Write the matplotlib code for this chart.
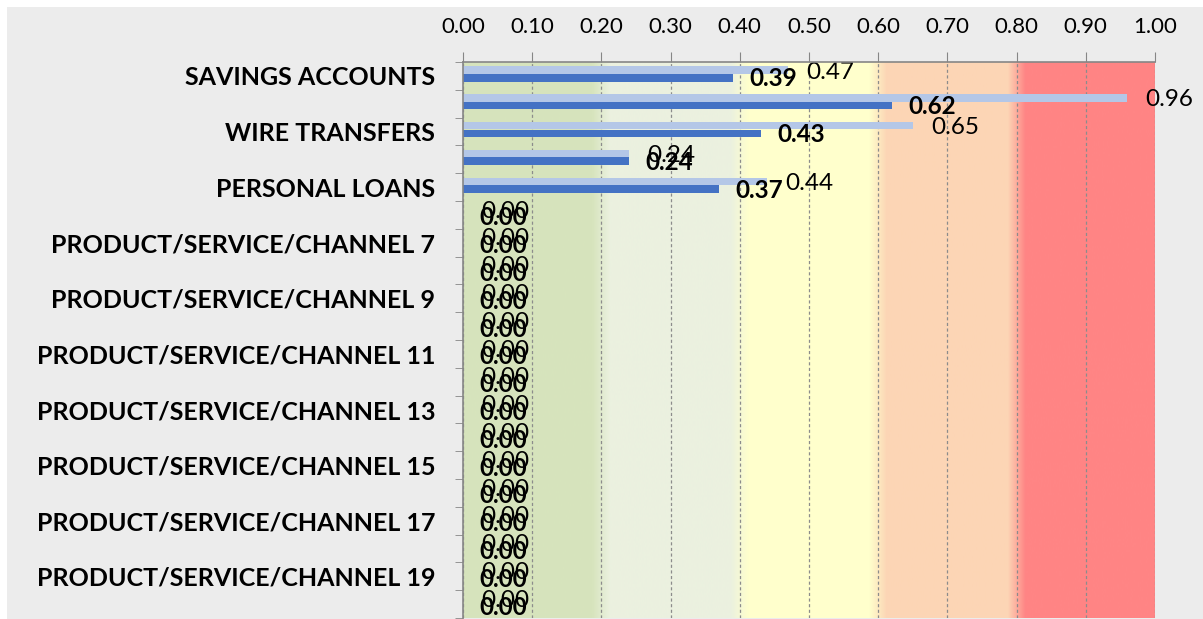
"""Risk score by product / service / channel - horizontal bar chart"""
import numpy as np
import matplotlib.pyplot as plt
from matplotlib.patches import Rectangle

plt.rcParams['font.family'] = ['Lato', 'DejaVu Sans']

# Data
categories = ['SAVINGS ACCOUNTS', 'CHECKING ACCOUNTS', 'WIRE TRANSFERS', 'CREDIT CARDS',
              'PERSONAL LOANS'] + ['PRODUCT/SERVICE/CHANNEL %d' % n for n in range(6, 21)]
inherent = [0.47, 0.96, 0.65, 0.24, 0.44] + [0.0] * 15
residual = [0.39, 0.62, 0.43, 0.24, 0.37] + [0.0] * 15
xticks = [0.0, 0.1, 0.2, 0.3, 0.4, 0.5, 0.6, 0.7, 0.8, 0.9, 1.0]
band_edges = [0.0, 0.2, 0.4, 0.6, 0.8, 1.0]
band_colors = ['#d7e4bd', '#ebf1df', '#ffffcc', '#fcd5b5', '#ff8585']

fig = plt.figure(figsize=(12.03, 6.19), dpi=100)
fig.patch.set_facecolor('white')
fig.patches.append(Rectangle((7 / 1203, 0), 1, 1 - 7 / 619, transform=fig.transFigure,
                             facecolor='#ececec', edgecolor='none', zorder=-10))

ax = fig.add_axes([463 / 1203, 1 / 619, 692 / 1203, 556 / 619])
ax.set_facecolor('none')

n = len(categories)
y = np.arange(n)

# background bands, softened at the edges
N = 1000
xs = (np.arange(N) + 0.5) / N
rgb = np.zeros((N, 3))
for lo, hi, c in zip(band_edges[:-1], band_edges[1:], band_colors):
    m = (xs >= lo) & (xs < hi)
    rgb[m] = plt.matplotlib.colors.to_rgb(c)
k = np.ones(25) / 25
padded = np.pad(rgb, ((12, 12), (0, 0)), mode='edge')
smooth = np.stack([np.convolve(padded[:, i], k, mode='valid') for i in range(3)], axis=1)
ax.imshow(smooth[np.newaxis, :, :], extent=(0, 1, n - 0.5, -0.5), aspect='auto',
          zorder=0, interpolation='bilinear')

bh = 0.27
ax.barh(y - 0.21, inherent, height=bh, color='#b4c7e7', zorder=2)
ax.barh(y + 0.07, residual, height=bh, color='#4472c4', zorder=2)

for i in range(n):
    ax.annotate('%.2f' % inherent[i], (inherent[i], i - 0.14), xytext=(13, 0),
                textcoords='offset points', ha='left', va='center', fontsize=17.5)
    ax.annotate('%.2f' % residual[i], (residual[i], i + 0.11), xytext=(12, 0),
                textcoords='offset points', ha='left', va='center', fontsize=17.5,
                fontweight='bold')

ax.set_xlim(0, 1)
ax.set_ylim(n - 0.5, -0.5)

ax.xaxis.tick_top()
ax.set_xticks(xticks)
ax.set_xticklabels(['%.2f' % t for t in xticks], fontsize=16)
ax.tick_params(axis='x', direction='out', length=7, color='#868686', pad=11)

ax.set_yticks(y[::2])
ax.set_yticklabels([categories[i] for i in range(0, n, 2)], fontsize=18, fontweight='bold')
ax.set_yticks(np.arange(-0.5, n, 1.0), minor=True)
ax.tick_params(axis='y', which='major', length=0, pad=20)
ax.tick_params(axis='y', which='minor', direction='out', length=6, color='#868686')

ax.set_axisbelow(True)
ax.grid(axis='x', linestyle=(0, (2.5, 2)), color='#8c8c8c', linewidth=0.9, zorder=1)

for s in ['right', 'bottom']:
    ax.spines[s].set_visible(False)
for s in ['left', 'top']:
    ax.spines[s].set_color('#868686')
    ax.spines[s].set_linewidth(1.2)
    ax.spines[s].set_zorder(3)

plt.savefig('out.png', dpi=100, facecolor=fig.get_facecolor())
plt.close()
